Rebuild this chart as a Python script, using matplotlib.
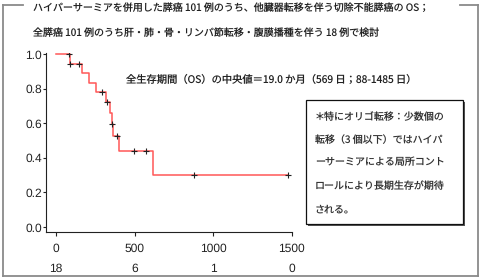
import matplotlib
matplotlib.use("Agg")
import matplotlib.pyplot as plt
from matplotlib.lines import Line2D
from matplotlib.patches import Rectangle
import matplotlib.transforms as mtransforms

plt.rcParams['font.family'] = ['Noto Sans CJK JP', 'DejaVu Sans']
plt.rcParams['text.hinting'] = 'no_hinting'
plt.rcParams['text.hinting_factor'] = 1

# ---- data ----
step_times = [0, 88, 168, 210, 255, 318, 346, 355, 361, 403, 620, 1480]
step_surv = [1.0, 0.944, 0.889, 0.833, 0.778, 0.722, 0.662, 0.595, 0.528, 0.441, 0.30, 0.30]
censor_times = [85, 90, 145, 295, 325, 357, 390, 499, 571, 881, 1480]
censor_surv = [1.0, 0.944, 0.944, 0.778, 0.722, 0.595, 0.528, 0.441, 0.441, 0.30, 0.30]
x_ticks = [0, 500, 1000, 1500]
y_ticks = [0.0, 0.2, 0.4, 0.6, 0.8, 1.0]
risk_n = [18, 6, 1, 0]

title1 = "ハイパーサーミアを併用した膵癌 101 例のうち、他臓器転移を伴う切除不能膵癌の OS；"
title2 = "全膵癌 101 例のうち肝・肺・骨・リンパ節転移・腹膜播種を伴う 18 例で検討"
median_text = "全生存期間（OS）の中央値＝19.0 か月（569 日；88-1485 日）"
box_lines = ["＊特にオリゴ転移：少数個の",
             "転移（3 個以下）ではハイパ",
             "ーサーミアによる局所コント",
             "ロールにより長期生存が期待",
             "される。"]

W, H = 480, 280
fig = plt.figure(figsize=(W / 100, H / 100), dpi=100)
fig.patch.set_facecolor('white')

def fx(px):
    return px / W

def fy(py):
    return 1 - py / H

# axes placement
ax = fig.add_axes([fx(46), fy(231.7), fx(292) - fx(46), fy(53) - fy(231.7)])
ax.set_xlim(-64, 1503)
ax.set_ylim(-0.027, 1.006)

ax.step(step_times, step_surv, where='post', color='#ff3b3b', lw=1.1, alpha=0.85, zorder=2)
ax.plot(censor_times, censor_surv, linestyle='none', marker='+', color='#222222',
        markersize=5, markeredgewidth=0.8, zorder=3)

for s in ['top', 'right']:
    ax.spines[s].set_visible(False)
for s in ['left', 'bottom']:
    ax.spines[s].set_color('#222222')
    ax.spines[s].set_linewidth(0.8)

ax.set_xticks(x_ticks)
ax.set_xticklabels([str(v) for v in x_ticks], fontfamily='Liberation Sans', fontsize=8.3)
ax.set_yticks(y_ticks)
ax.set_yticklabels([f"{v:.1f}" for v in y_ticks], fontfamily='Liberation Sans', fontsize=8.3)
ax.tick_params(axis='x', length=3, width=0.8, pad=5.5, colors='#222222')
ax.tick_params(axis='y', length=2, width=0.8, pad=1, colors='#222222')

# number at risk
trans = mtransforms.blended_transform_factory(ax.transData, fig.transFigure)
for t, n in zip(x_ticks, risk_n):
    ax.text(t, fy(268.5), str(n), transform=trans, ha='center', va='center',
            fontfamily='Liberation Sans', fontsize=8.3, color='#222222')

# outer frame (fieldset style)
fc = '#8a8a8a'
lw = 1.3
fig.add_artist(Line2D([fx(3), fx(3)], [fy(5), fy(276)], color=fc, lw=lw))
fig.add_artist(Line2D([fx(3), fx(477.5)], [fy(276), fy(276)], color=fc, lw=lw))
fig.add_artist(Line2D([fx(477.5), fx(477.5)], [fy(5), fy(276)], color=fc, lw=lw))
fig.add_artist(Line2D([fx(3), fx(23)], [fy(5), fy(5)], color=fc, lw=lw))
fig.add_artist(Line2D([fx(460), fx(477.5)], [fy(5), fy(5)], color=fc, lw=lw))

# titles
fig.text(fx(33), fy(7.5), title1, ha='left', va='center', fontsize=7.2, color='#222222')
fig.text(fx(33), fy(33), title2, ha='left', va='center', fontsize=7.2, color='#222222')

# median annotation
fig.text(fx(126.5), fy(80), median_text, ha='left', va='center', fontsize=7.4, color='#222222')

# box with shadow
fig.add_artist(Rectangle((fx(307.5), fy(225.5)), fx(462.7) - fx(305.7), fy(100) - fy(224),
                         transform=fig.transFigure, facecolor='#555555', edgecolor='none', zorder=4))
fig.add_artist(Rectangle((fx(305.7), fy(224)), fx(462.7) - fx(305.7), fy(100) - fy(224),
                         transform=fig.transFigure, facecolor='white', edgecolor='#111111',
                         lw=0.9, zorder=5))
line_y = [117.3, 140, 162.5, 185.7, 209]
for ly, txt in zip(line_y, box_lines):
    fig.text(fx(315), fy(ly), txt, ha='left', va='center', fontsize=7.2,
             color='#333333', zorder=6)

fig.savefig('out.png', dpi=100, facecolor='white')
